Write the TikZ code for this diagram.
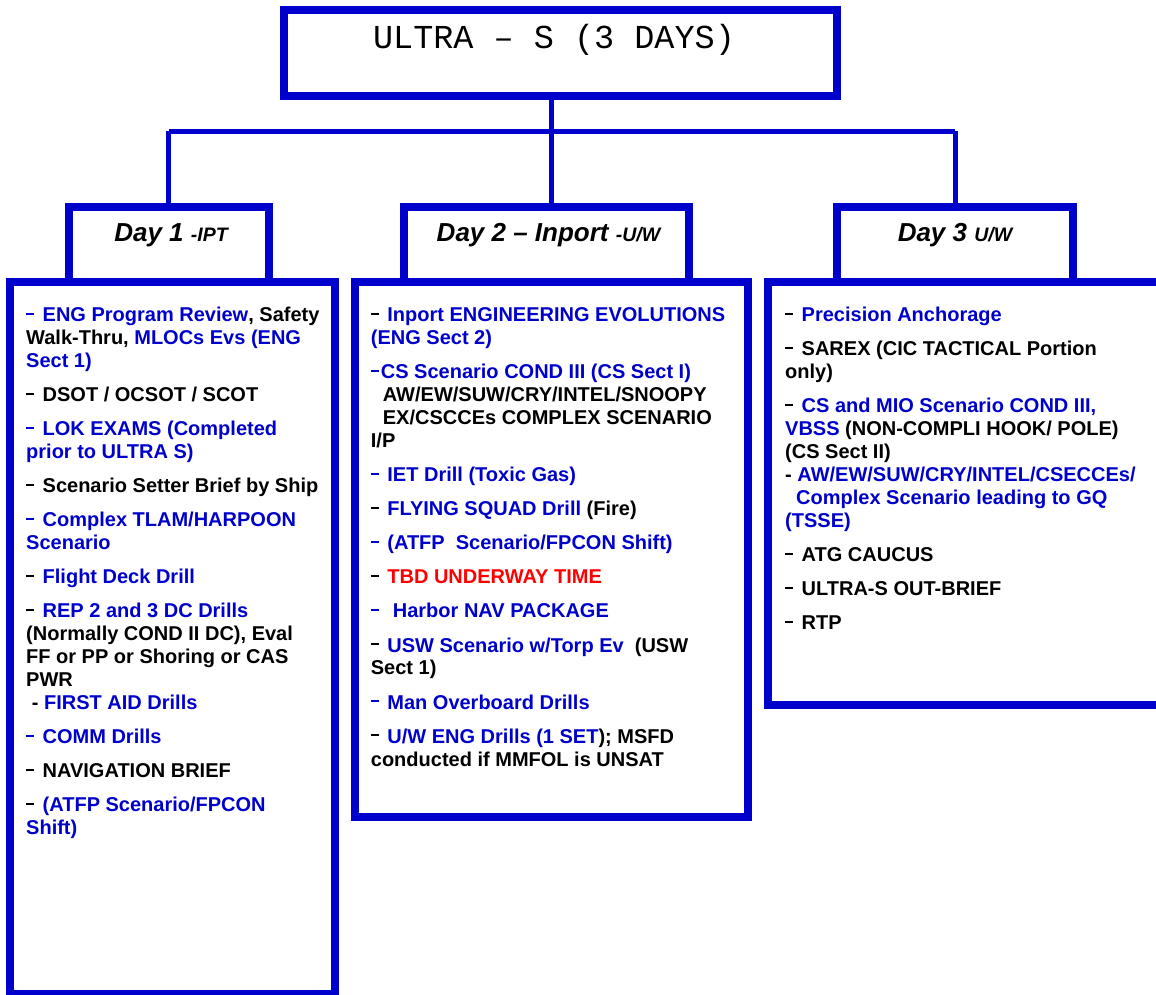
\documentclass[tikz,border=0pt]{standalone}
\usepackage{fontspec}
\setmainfont{Liberation Sans}
\newfontfamily\titlefont{Liberation Mono}
\definecolor{lb}{RGB}{0,0,204}
\definecolor{tb}{RGB}{0,0,204}
\definecolor{tr}{RGB}{255,0,0}
\newcommand{\B}[1]{\textcolor{tb}{#1}}
\newcommand{\R}[1]{\textcolor{tr}{#1}}
\newcommand{\dsh}[1][16.5pt]{\makebox[#1][l]{\rule[6.8pt]{8pt}{1.9pt}}}
\begin{document}
\begin{tikzpicture}[x=1pt,y=-1pt,
  frame/.style={draw=lb, line width=8pt, inner sep=0pt, fill=white},
  conn/.style={draw=lb, line width=5pt},
  coltext/.style={anchor=base west, inner sep=0pt, text=black,
    font=\fontsize{20}{22.9}\selectfont\bfseries},
  daytext/.style={anchor=base, inner sep=0pt, text=black,
    font=\fontsize{26}{30}\selectfont\bfseries\itshape},
  titletext/.style={anchor=base, inner sep=0pt, text=black,
    font=\titlefont\fontsize{33.5}{36}\selectfont}]

\useasboundingbox (0,0) rectangle (1156,994);

% content boxes
\node[frame, minimum width=325pt, minimum height=712pt] (col1) at (172.5,638) {};
\node[frame, minimum width=393pt, minimum height=535pt] (col2) at (551.5,549.5) {};
\node[frame, minimum width=402pt, minimum height=423pt] (col3) at (969,493.5) {};

% day boxes
\node[frame, minimum width=200pt, minimum height=75pt] (day1) at (169,244.5) {};
\node[frame, minimum width=285pt, minimum height=75pt] (day2) at (546.5,244.5) {};
\node[frame, minimum width=236pt, minimum height=75pt] (day3) at (955,244.5) {};

% title box
\node[frame, minimum width=553pt, minimum height=86pt] (title) at (560.5,53) {};
\node[titletext] (titlet) at (554,48) {ULTRA – S (3 DAYS)};

% connectors
\coordinate (bus) at (551.7,131);
\coordinate (busL) at (168.5,131);
\coordinate (busR) at (955,131);
\draw[conn] (title.south -| bus) -- (bus |- day2.north);
\draw[conn] (busL) -- (busR);
\draw[conn] (busL) -- (busL |- day1.north);
\draw[conn] (busR) -- (busR |- day3.north);

% day headers
\node[daytext] (d1t) at (171,241.7) {Day 1 {\fontsize{19.5}{22}\selectfont -IPT}};
\node[daytext] (d2t) at (548.5,241.7) {Day 2 – Inport {\fontsize{19.5}{22}\selectfont -U/W}};
\node[daytext] (d3t) at (955,241.7) {Day 3 {\fontsize{19.5}{22}\selectfont U/W}};

% column 1 text
\node[coltext] (c1t) at (26,321.7) {\parbox[t]{320pt}{\raggedright\parskip=11.2pt
\B{\dsh ENG Program Review}, Safety\\
Walk-Thru, \B{MLOCs Evs (ENG\\ Sect 1)}\par
\dsh DSOT / OCSOT / SCOT\par
\B{\dsh LOK EXAMS (Completed\\ prior to ULTRA S)}\par
\dsh Scenario Setter Brief by Ship\par
\B{\dsh Complex TLAM/HARPOON\\ Scenario}\par
\dsh \B{Flight Deck Drill}\par
\dsh \B{REP 2 and 3 DC Drills}\\
(Normally COND II DC), Eval\\
FF or PP or Shoring or CAS\\
PWR\\
\hspace*{5.7pt}- \B{FIRST AID Drills}\par
\B{\dsh COMM Drills}\par
\dsh NAVIGATION BRIEF\par
\dsh \B{(ATFP Scenario/FPCON\\ Shift)}}};

% column 2 text
\node[coltext] (c2t) at (370.7,321.7) {\parbox[t]{380pt}{\raggedright\parskip=11.2pt
\dsh \B{Inport ENGINEERING EVOLUTIONS\\ (ENG Sect 2)}\par
\B{\dsh[10pt]CS Scenario COND III (CS Sect I)}\\
\hspace*{12pt}AW/EW/SUW/CRY/INTEL/SNOOPY\\
\hspace*{12pt}EX/CSCCEs COMPLEX SCENARIO\\
I/P\par
\B{\dsh IET Drill (Toxic Gas)}\par
\dsh \B{FLYING SQUAD Drill} (Fire)\par
\B{\dsh (ATFP\ \ Scenario/FPCON Shift)}\par
\dsh \R{TBD UNDERWAY TIME}\par
\B{\dsh[22pt]Harbor NAV PACKAGE}\par
\dsh \B{USW Scenario w/Torp Ev}\ \ (USW\\ Sect 1)\par
\B{\dsh Man Overboard Drills}\par
\dsh \B{U/W ENG Drills (1 SET}); MSFD\\ conducted if MMFOL is UNSAT}};

% column 3 text
\node[coltext] (c3t) at (785,321.7) {\parbox[t]{370pt}{\raggedright\parskip=11.2pt
\dsh \B{Precision Anchorage}\par
\dsh SAREX (CIC TACTICAL Portion\\ only)\par
\dsh \B{CS and MIO Scenario COND III,\\ VBSS} (NON-COMPLI HOOK/ POLE)\\
(CS Sect II)\\
- \B{AW/EW/SUW/CRY/INTEL/CSECCEs/\\ \hspace*{11pt}Complex Scenario leading to GQ\\ (TSSE)}\par
\dsh ATG CAUCUS\par
\dsh ULTRA-S OUT-BRIEF\par
\dsh RTP}};

\end{tikzpicture}
\end{document}
